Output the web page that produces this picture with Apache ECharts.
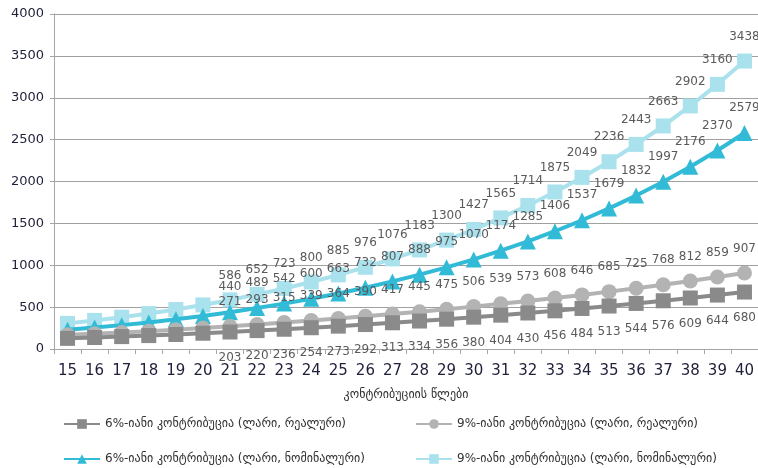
<!DOCTYPE html>
<html>
<head>
<meta charset="utf-8">
<script src="https://cdn.jsdelivr.net/npm/echarts@6/dist/echarts.min.js"></script>
<style>
  html, body { margin: 0; padding: 0; background: #fff; }
  #chart { width: 758px; height: 468px; }
</style>
</head>
<body>
<div id="chart"></div>
<script>
const years = ['15','16','17','18','19','20','21','22','23','24','25','26','27','28','29','30','31','32','33','34','35','36','37','38','39','40'];

const real6 = [127, 137, 148, 160, 173, 188, 203, 220, 236, 254, 273, 292, 313, 334, 356, 380, 404, 430, 456, 484, 513, 544, 576, 609, 644, 680];
const real9 = [169, 183, 197, 213, 231, 251, 271, 293, 315, 339, 364, 390, 417, 445, 475, 506, 539, 573, 608, 646, 685, 725, 768, 812, 859, 907];
const nominal6 = [230, 256, 285, 317, 354, 395, 440, 489, 542, 600, 663, 732, 807, 888, 975, 1070, 1174, 1285, 1406, 1537, 1679, 1832, 1997, 2176, 2370, 2579];
const nominal9 = [306, 341, 380, 423, 472, 526, 586, 652, 723, 800, 885, 976, 1076, 1183, 1300, 1427, 1565, 1714, 1875, 2049, 2236, 2443, 2663, 2902, 3160, 3438];

const names = [
  '6%-იანი კონტრიბუცია (ლარი, რეალური)',
  '9%-იანი კონტრიბუცია (ლარი, რეალური)',
  '6%-იანი კონტრიბუცია (ლარი, ნომინალური)',
  '9%-იანი კონტრიბუცია (ლარი, ნომინალური)'
];

// first six points carry no label in the original
const withLabels = arr => arr.map((v, i) => i < 6 ? { value: v, label: { show: false } } : v);

const labelFont = { fontFamily: 'DejaVu Sans', fontSize: 12, color: '#5a5a5a' };

function makeSeries(name, data, color, symbol, pos, dist, z) {
  return {
    name: name,
    type: 'line',
    data: withLabels(data),
    symbol: symbol,
    symbolSize: symbol === 'triangle' ? 16 : 15,
    z: z,
    lineStyle: { color: color, width: 4 },
    itemStyle: { color: color },
    label: Object.assign({ show: true, position: pos, distance: dist }, labelFont),
    emphasis: { disabled: true },
    animation: false
  };
}

const chart = echarts.init(document.getElementById('chart'));

const legendText = { fontFamily: 'DejaVu Sans', fontSize: 12, color: '#333' };
const legendBase = { itemWidth: 36, itemHeight: 12, itemGap: 4, textStyle: legendText, selectedMode: false };

chart.setOption({
  backgroundColor: '#fff',
  grid: { left: 54, right: 0, top: 14, bottom: 119 },
  legend: [
    Object.assign({ data: [names[0]], left: 58, top: 413 }, legendBase),
    Object.assign({ data: [names[1]], left: 410, top: 413 }, legendBase),
    Object.assign({ data: [names[2]], left: 58, top: 448 }, legendBase),
    Object.assign({ data: [names[3]], left: 410, top: 448 }, legendBase)
  ],
  xAxis: {
    type: 'category',
    data: years,
    boundaryGap: true,
    name: 'კონტრიბუციის წლები',
    nameLocation: 'middle',
    nameGap: 40,
    nameTextStyle: { fontFamily: 'DejaVu Sans', fontSize: 12, color: '#333' },
    axisLine: { lineStyle: { color: '#a6a6a6', width: 1 } },
    axisTick: { show: true, length: 5, lineStyle: { color: '#a6a6a6' } },
    axisLabel: { fontFamily: 'DejaVu Sans', fontSize: 15, color: '#1f1f3a', margin: 15, interval: 0 }
  },
  yAxis: {
    type: 'value',
    min: 0,
    max: 4000,
    interval: 500,
    axisLine: { show: true, lineStyle: { color: '#a6a6a6', width: 1 } },
    axisTick: { show: true, length: 4, lineStyle: { color: '#a6a6a6' } },
    axisLabel: { fontFamily: 'DejaVu Sans', fontSize: 13, color: '#1f1f3a', margin: 10, formatter: v => String(v) },
    splitLine: { lineStyle: { color: '#a0a0a0', width: 1 } }
  },
  series: [
    makeSeries(names[0], real6, '#8a8a8a', 'rect', 'bottom', 12, 4),
    makeSeries(names[1], real9, '#b3b3b3', 'circle', 'top', 11, 3),
    makeSeries(names[2], nominal6, '#32bbd6', 'triangle', 'top', 11, 2),
    makeSeries(names[3], nominal9, '#a9e1ed', 'rect', 'top', 11, 1)
  ]
});
</script>
</body>
</html>
